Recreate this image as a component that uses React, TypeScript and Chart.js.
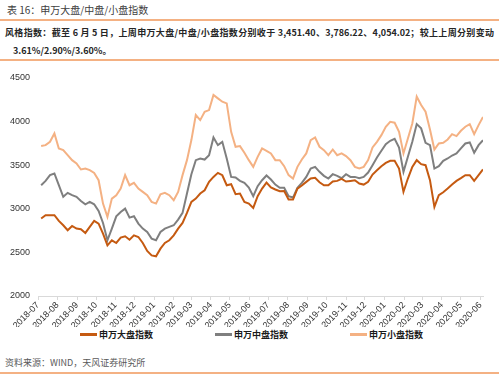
import React, { useEffect, useRef } from "react";
import { Chart, registerables } from "chart.js";

Chart.register(...registerables);

// Weekly closes (Fridays) from 2018-07-06 to 2020-06-05
const startWeek = "2018-07-06";
const weekCount = 101;

const monthLabels = [
  "2018-07", "2018-08", "2018-09", "2018-10", "2018-11", "2018-12",
  "2019-01", "2019-02", "2019-03", "2019-04", "2019-05", "2019-06",
  "2019-07", "2019-08", "2019-09", "2019-10", "2019-11", "2019-12",
  "2020-01", "2020-02", "2020-03", "2020-04", "2020-05", "2020-06",
];

const yTicks = [2000, 2500, 3000, 3500, 4000, 4500];

const seriesNames = ["申万大盘指数", "申万中盘指数", "申万小盘指数"];
const seriesColors = ["#C55A11", "#7F7F7F", "#F4B183"];

const largeCap = [
  2888, 2926, 2926, 2926, 2861, 2811, 2754, 2803, 2773, 2765,
  2723, 2792, 2861, 2830, 2715, 2581, 2639, 2608, 2669, 2685,
  2646, 2696, 2677, 2608, 2516, 2466, 2455, 2543, 2608, 2639,
  2696, 2773, 2838, 2953, 3079, 3117, 3175, 3213, 3309, 3366,
  3412, 3385, 3270, 3282, 3167, 3175, 3079, 3060, 3010, 3144,
  3232, 3301, 3244, 3221, 3202, 3205, 3106, 3106, 3232, 3267,
  3309, 3347, 3355, 3305, 3270, 3270, 3313, 3320, 3343, 3313,
  3320, 3328, 3290, 3278, 3309, 3393, 3443, 3489, 3527, 3550,
  3550, 3462, 3194, 3347, 3481, 3558, 3512, 3500, 3328, 3022,
  3156, 3190, 3232, 3278, 3320, 3351, 3385, 3385, 3320, 3385,
  3451.4,
];

const midCap = [
  3271, 3320, 3386, 3405, 3271, 3137, 3183, 3156, 3137, 3090,
  3052, 3079, 3052, 2976, 2838, 2639, 2773, 2914, 2964, 3002,
  2899, 2914, 2830, 2773, 2734, 2658, 2639, 2734, 2773, 2792,
  2811, 2876, 2953, 3175, 3397, 3558, 3577, 3565, 3615, 3818,
  3730, 3768, 3577, 3366, 3359, 3320, 3297, 3244, 3144, 3259,
  3328, 3382, 3336, 3278, 3240, 3240, 3144, 3129, 3240, 3297,
  3366, 3462, 3481, 3424, 3378, 3347, 3397, 3378, 3351, 3397,
  3366, 3366, 3351, 3366, 3416, 3500, 3588, 3665, 3742, 3780,
  3803, 3703, 3424, 3596, 3768, 3971, 3922, 3757, 3730, 3462,
  3489, 3550, 3577, 3611, 3634, 3692, 3749, 3761, 3642, 3730,
  3786.22,
];

const smallCap = [
  3720, 3730, 3768, 3864, 3692, 3673, 3615, 3558, 3520, 3451,
  3462, 3443, 3412, 3328, 3060, 2907, 3117, 3156, 3232, 3386,
  3270, 3297, 3232, 3194, 3156, 3079, 3060, 3167, 3183, 3156,
  3098, 3194, 3386, 3558, 3788, 4075, 4017, 4113, 4132, 4305,
  4266, 4228, 4209, 3883, 3711, 3719, 3642, 3558, 3481, 3596,
  3692, 3665, 3635, 3558, 3558, 3489, 3386, 3347, 3481, 3565,
  3635, 3788, 3818, 3711, 3673, 3615, 3680, 3615, 3635, 3604,
  3558, 3481, 3462, 3481, 3558, 3703, 3768, 3845, 3941, 3998,
  3987, 3883, 3635, 3807, 3979, 4286, 4190, 4113, 3910, 3680,
  3749, 3757, 3795, 3856, 3834, 3895, 3941, 3971, 3856, 3960,
  4054.02,
];

const DAY = 86400000;
const axisStart = Date.UTC(2018, 6, 1);
const axisEnd = Date.UTC(2020, 5, 5);

function dayOffset(ms: number) {
  return Math.round((ms - axisStart) / DAY);
}

function weekDays(): number[] {
  const [y, m, d] = startWeek.split("-").map(Number);
  const first = Date.UTC(y, m - 1, d);
  const out: number[] = [];
  for (let i = 0; i < weekCount; i++) out.push(dayOffset(first + i * 7 * DAY));
  return out;
}

function monthTickValues(): number[] {
  return monthLabels.map((lab) => {
    const [y, m] = lab.split("-").map(Number);
    return dayOffset(Date.UTC(y, m - 1, 1));
  });
}

const FONT = "'Liberation Sans', Arial, sans-serif";
const CJK = "'Noto Sans CJK SC', 'Noto Sans', sans-serif";

export default function App() {
  const ref = useRef<HTMLCanvasElement | null>(null);

  useEffect(() => {
    if (!ref.current) return;
    const xs = weekDays();
    const tickVals = monthTickValues();
    const toPts = (vals: number[]) => vals.map((v, i) => ({ x: xs[i], y: v }));
    const all = [largeCap, midCap, smallCap];
    const chart = new Chart(ref.current, {
      type: "line",
      data: {
        datasets: all.map((vals, i) => ({
          label: seriesNames[i],
          data: toPts(vals),
          borderColor: seriesColors[i],
          backgroundColor: seriesColors[i],
          borderWidth: 2,
          pointRadius: 0,
          tension: 0,
          fill: false,
        })),
      },
      options: {
        animation: false,
        responsive: false,
        maintainAspectRatio: false,
        layout: { padding: { top: 16, right: 16, left: 0, bottom: 0 } },
        plugins: { legend: { display: false }, tooltip: { enabled: false } },
        scales: {
          x: {
            type: "linear",
            min: 0,
            max: dayOffset(axisEnd),
            afterBuildTicks: (scale: any) => {
              scale.ticks = tickVals.map((v) => ({ value: v }));
            },
            afterFit: (scale: any) => {
              scale.height = 31;
            },
            ticks: {
              autoSkip: false,
              minRotation: 45,
              maxRotation: 45,
              padding: 0,
              color: "#333333",
              font: { family: FONT, size: 9 },
              callback: (_v: any, idx: number) => monthLabels[idx],
            },
            grid: {
              display: true,
              drawOnChartArea: false,
              drawTicks: true,
              tickLength: 4,
              color: "#D9D9D9",
            },
            border: { display: true, color: "#D9D9D9", width: 1 },
          },
          y: {
            min: 2000,
            max: 4500,
            afterBuildTicks: (scale: any) => {
              scale.ticks = yTicks.map((v) => ({ value: v }));
            },
            afterFit: (scale: any) => {
              scale.width = 38;
            },
            ticks: {
              padding: 8,
              color: "#333333",
              font: { family: FONT, size: 9 },
              callback: (v: any) => String(v),
            },
            grid: { display: false, drawTicks: false },
            border: { display: false },
          },
        },
      },
    });
    return () => chart.destroy();
  }, []);

  const orangeLine = (top: number) => (
    <div
      style={{
        position: "absolute",
        left: 0,
        top,
        width: 499,
        height: 2,
        background: "#F4B183",
      }}
    />
  );

  return (
    <div
      style={{
        position: "absolute",
        left: 0,
        top: 0,
        width: 499,
        height: 375,
        background: "#ffffff",
        overflow: "hidden",
        fontFamily: CJK,
      }}
    >
      <div
        style={{
          position: "absolute",
          left: 7,
          top: 3,
          fontSize: 10,
          lineHeight: "14px",
          color: "#404040",
          whiteSpace: "nowrap",
        }}
      >
        表 16：申万大盘/中盘/小盘指数
      </div>
      {orangeLine(19)}
      <div
        style={{
          position: "absolute",
          left: 5,
          top: 26,
          width: 489,
          fontSize: 9,
          lineHeight: "14px",
          fontWeight: 700,
          color: "#262626",
          whiteSpace: "nowrap",
          textAlign: "justify",
          textAlignLast: "justify",
        }}
      >
        风格指数：截至 6 月 5 日，上周申万大盘/中盘/小盘指数分别收于 3,451.40、3,786.22、4,054.02；较上上周分别变动
      </div>
      <div
        style={{
          position: "absolute",
          left: 13,
          top: 44,
          fontSize: 9,
          lineHeight: "14px",
          fontWeight: 700,
          color: "#262626",
          whiteSpace: "nowrap",
        }}
      >
        3.61%/2.90%/3.60%。
      </div>
      {orangeLine(59)}
      <div style={{ position: "absolute", left: 0, top: 62, width: 499, height: 265 }}>
        <canvas ref={ref} width={499} height={265} style={{ display: "block", width: 499, height: 265 }} />
      </div>
      {seriesNames.map((name, i) => (
        <div
          key={name}
          style={{
            position: "absolute",
            left: 80 + i * 135,
            top: 327,
            height: 14,
            display: "flex",
            alignItems: "center",
            whiteSpace: "nowrap",
          }}
        >
          <span
            style={{
              display: "inline-block",
              width: 17,
              height: 3,
              background: seriesColors[i],
              marginRight: 2,
            }}
          />
          <span style={{ fontSize: 9, fontWeight: 700, color: "#1a1a1a" }}>{name}</span>
        </div>
      ))}
      <div
        style={{
          position: "absolute",
          left: 5,
          top: 356,
          fontSize: 9,
          lineHeight: "14px",
          color: "#595959",
          whiteSpace: "nowrap",
        }}
      >
        资料来源：WIND，天风证券研究所
      </div>
      {orangeLine(372)}
    </div>
  );
}
